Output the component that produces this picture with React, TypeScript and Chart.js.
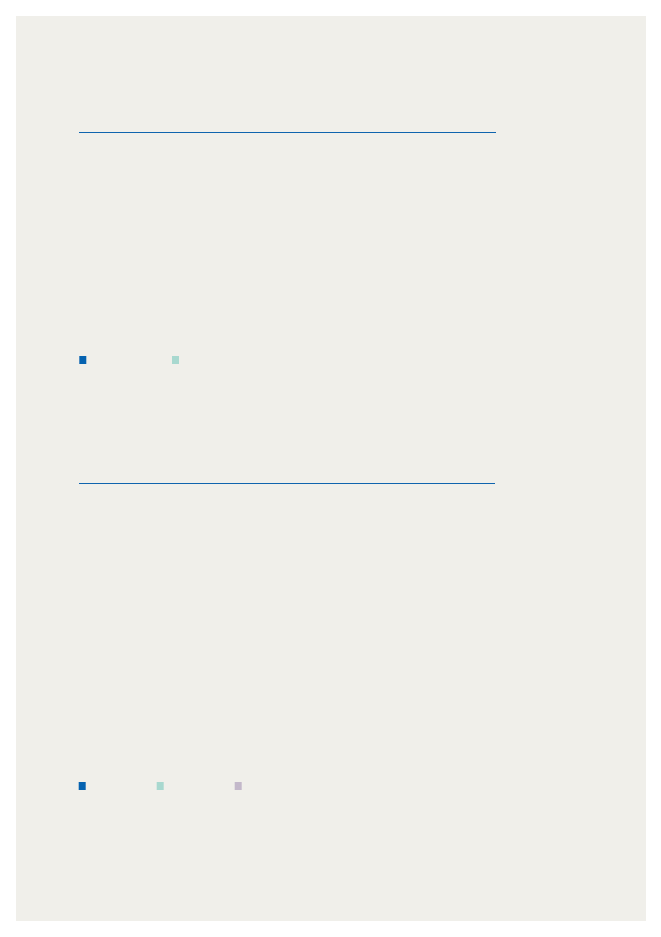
import React, { useEffect, useRef } from "react";
import { Chart, registerables } from "chart.js";

Chart.register(...registerables);

// ---- Data (the reference shows no readable values, ticks or labels) ----
const chart1Categories: string[] = [];
const chart1SeriesLabels: string[] = ["", ""];
const chart1SeriesA: number[] = [];
const chart1SeriesB: number[] = [];
const chart1Colors: string[] = ["#0562b0", "#a8d8cf"];

const chart2Categories: string[] = [];
const chart2SeriesLabels: string[] = ["", "", ""];
const chart2SeriesA: number[] = [];
const chart2SeriesB: number[] = [];
const chart2SeriesC: number[] = [];
const chart2Colors: string[] = ["#0562b0", "#a8d8cf", "#c3b8ca"];

const RULE_COLOR = "#0f64ae";
const PANEL_BG = "#f0efea";

type ChartSpec = {
  categories: string[];
  labels: string[];
  series: number[][];
  colors: string[];
  legendPadding: number;
  padLeft: number;
  padBottom: number;
};

function BarPanel({ spec, style }: { spec: ChartSpec; style: React.CSSProperties }) {
  const ref = useRef<HTMLCanvasElement | null>(null);
  useEffect(() => {
    if (!ref.current) return;
    const chart = new Chart(ref.current, {
      type: "bar",
      data: {
        labels: spec.categories,
        datasets: spec.series.map((s, i) => ({
          label: spec.labels[i],
          data: s,
          backgroundColor: spec.colors[i],
          borderWidth: 0,
        })),
      },
      options: {
        animation: false,
        responsive: true,
        maintainAspectRatio: false,
        layout: { padding: { left: spec.padLeft, right: 0, top: 0, bottom: spec.padBottom } },
        scales: {
          x: { display: false },
          y: { display: false },
        },
        plugins: {
          tooltip: { enabled: false },
          title: { display: false },
          legend: {
            display: true,
            position: "bottom",
            align: "start",
            labels: {
              boxWidth: 7,
              boxHeight: 8,
              padding: spec.legendPadding,
              color: "#333333",
              font: { family: "Roboto", size: 14 },
            },
          },
        },
      },
    });
    return () => chart.destroy();
  }, [spec]);
  return (
    <div style={style}>
      <canvas ref={ref} />
    </div>
  );
}

const spec1: ChartSpec = {
  categories: chart1Categories,
  labels: chart1SeriesLabels,
  series: [chart1SeriesA, chart1SeriesB],
  colors: chart1Colors,
  legendPadding: 78.7,
  padLeft: 0.6,
  padBottom: 4,
};

const spec2: ChartSpec = {
  categories: chart2Categories,
  labels: chart2SeriesLabels,
  series: [chart2SeriesA, chart2SeriesB, chart2SeriesC],
  colors: chart2Colors,
  legendPadding: 64,
  padLeft: 14.7,
  padBottom: 4,
};

export default function App() {
  return (
    <div>
      <div
        style={{
          position: "absolute",
          left: 16,
          top: 16,
          width: 630,
          height: 905,
          background: PANEL_BG,
        }}
      />
      <div
        style={{
          position: "absolute",
          left: 79,
          top: 132,
          width: 416.5,
          height: 1.2,
          background: RULE_COLOR,
        }}
      />
      <BarPanel
        spec={spec1}
        style={{ position: "absolute", left: 0, top: 136, width: 640, height: 245 }}
      />
      <div
        style={{
          position: "absolute",
          left: 78.7,
          top: 483,
          width: 416.5,
          height: 1.2,
          background: RULE_COLOR,
        }}
      />
      <BarPanel
        spec={spec2}
        style={{ position: "absolute", left: 0, top: 487, width: 640, height: 320 }}
      />
    </div>
  );
}
